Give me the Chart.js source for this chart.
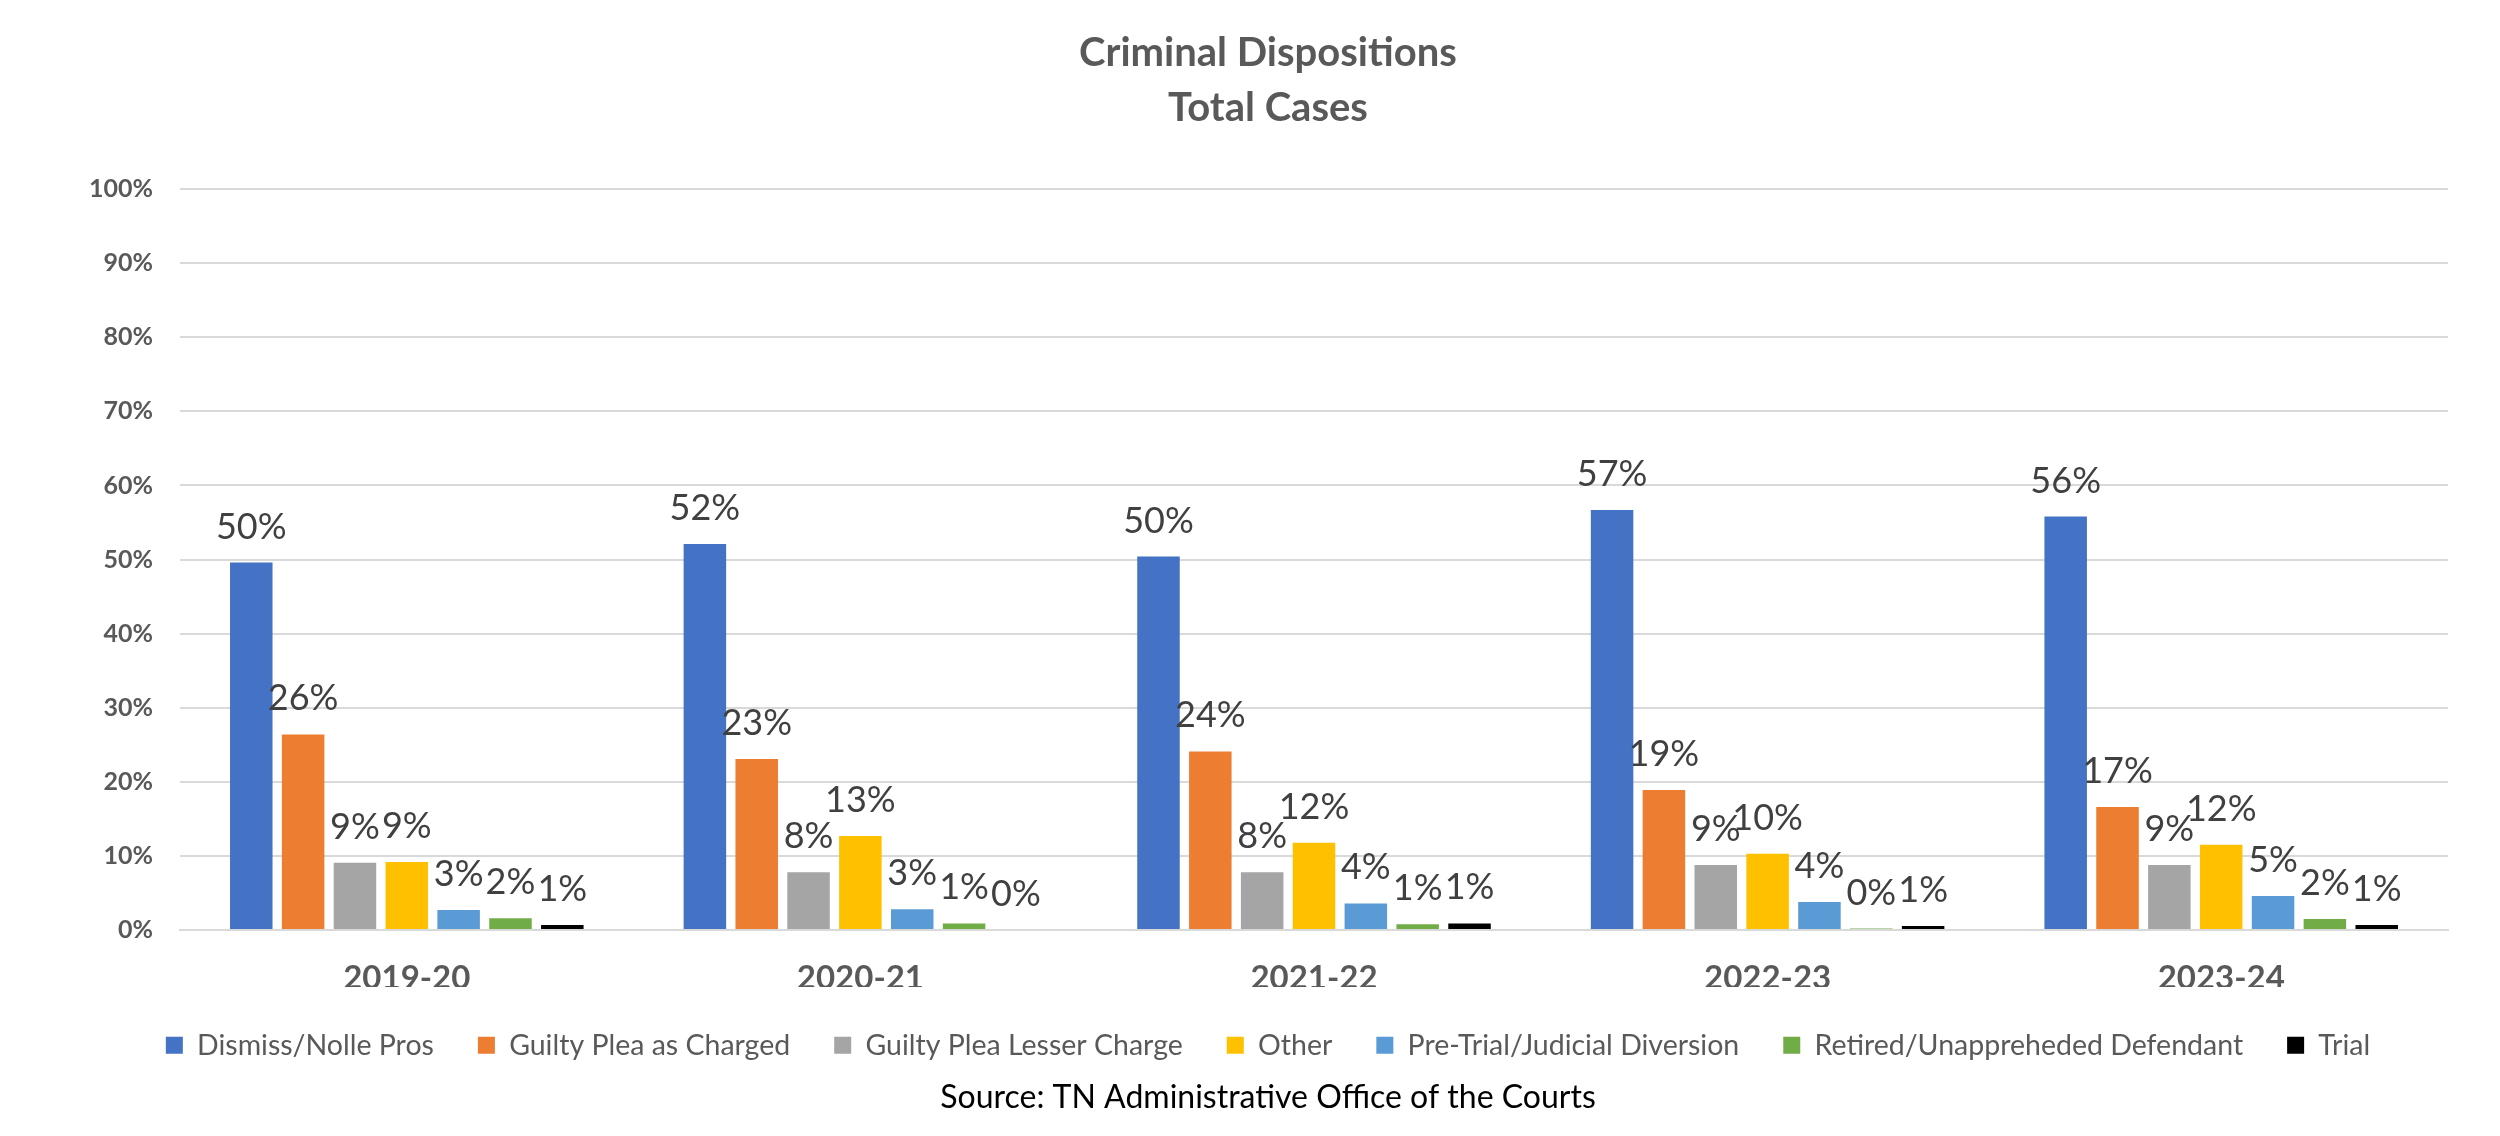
<!DOCTYPE html>
<html>
<head>
<meta charset="utf-8">
<script src="https://cdn.jsdelivr.net/npm/chart.js@4"></script>
<style>
  html, body { margin: 0; padding: 0; background: #ffffff; }
  #wrap { width: 2500px; height: 1136px; }
</style>
</head>
<body>
<div id="wrap"><canvas id="c" width="2500" height="1136"></canvas></div>
<script>
const categories = ['2019-20', '2020-21', '2021-22', '2022-23', '2023-24'];
const seriesNames = ['Dismiss/Nolle Pros', 'Guilty Plea as Charged', 'Guilty Plea Lesser Charge', 'Other', 'Pre-Trial/Judicial Diversion', 'Retired/Unappreheded Defendant', 'Trial'];
const dismissNolle = [49.6, 52.1, 50.4, 56.7, 55.8];
const guiltyCharged = [26.4, 23.1, 24.1, 18.9, 16.6];
const guiltyLesser = [9.1, 7.8, 7.8, 8.8, 8.8];
const otherDisp = [9.2, 12.7, 11.8, 10.3, 11.5];
const diversion = [2.7, 2.8, 3.6, 3.8, 4.6];
const retired = [1.6, 0.9, 0.8, 0.2, 1.5];
const trial = [0.7, 0, 0.9, 0.55, 0.7];
const yTicks = [0, 10, 20, 30, 40, 50, 60, 70, 80, 90, 100];
const titleLines = ['Criminal Dispositions', 'Total Cases'];
const sourceText = 'Source: TN Administrative Office of the Courts';

const seriesValues = [dismissNolle, guiltyCharged, guiltyLesser, otherDisp, diversion, retired, trial];
const seriesColors = ['#4472C4', '#ED7D31', '#A5A5A5', '#FFC000', '#5B9BD5', '#70AD47', '#000000'];

const valueLabels = {
  id: 'valueLabels',
  afterDatasetsDraw(chart) {
    const ctx = chart.ctx;
    ctx.save();
    ctx.font = '36px Lato';
    ctx.fillStyle = '#404040';
    ctx.textAlign = 'center';
    ctx.textBaseline = 'alphabetic';
    chart.data.datasets.forEach((ds, di) => {
      const meta = chart.getDatasetMeta(di);
      meta.data.forEach((el, i) => {
        const v = ds.data[i];
        ctx.fillText(Math.round(v) + '%', el.x, el.y - 24);
      });
    });
    ctx.restore();
  }
};

new Chart(document.getElementById('c'), {
  type: 'bar',
  data: {
    labels: categories,
    datasets: seriesNames.map((name, k) => ({
      label: name,
      data: seriesValues[k],
      backgroundColor: seriesColors[k],
      borderWidth: 0,
      categoryPercentage: 0.8,
      barPercentage: 0.82
    }))
  },
  options: {
    responsive: false,
    devicePixelRatio: 1,
    animation: false,
    layout: { padding: { left: 88, right: 52, top: 0, bottom: 19 } },
    plugins: {
      title: {
        display: true,
        text: titleLines,
        color: '#595959',
        font: { family: 'Lato', size: 40, weight: 'bold', lineHeight: '55px' },
        padding: { top: 26, bottom: 53 }
      },
      subtitle: {
        display: true,
        position: 'bottom',
        text: sourceText,
        color: '#000000',
        font: { family: 'Lato', size: 32, weight: 'normal' },
        padding: { top: 9, bottom: 0 }
      },
      legend: {
        display: true,
        position: 'bottom',
        labels: {
          boxWidth: 17,
          boxHeight: 17,
          padding: 44,
          color: '#595959',
          font: { family: 'Lato', size: 28.5 }
        }
      },
      tooltip: { enabled: false }
    },
    scales: {
      x: {
        grid: { display: false, drawTicks: false },
        border: { display: true, color: '#d9d9d9', width: 2 },
        ticks: {
          color: '#595959',
          font: { family: 'Lato', size: 33, weight: 'bold' },
          padding: 28
        },
        afterFit(scale) { scale.height = 57; }
      },
      y: {
        min: 0,
        max: 100,
        afterBuildTicks(scale) { scale.ticks = yTicks.map(v => ({ value: v })); },
        grid: { color: '#d9d9d9', lineWidth: 2, drawTicks: false },
        border: { display: false },
        ticks: {
          color: '#595959',
          font: { family: 'Lato', size: 25, weight: 'bold' },
          padding: 27,
          callback: v => v + '%'
        },
        afterFit(scale) { scale.width = 92; }
      }
    }
  },
  plugins: [valueLabels]
});
</script>
</body>
</html>
